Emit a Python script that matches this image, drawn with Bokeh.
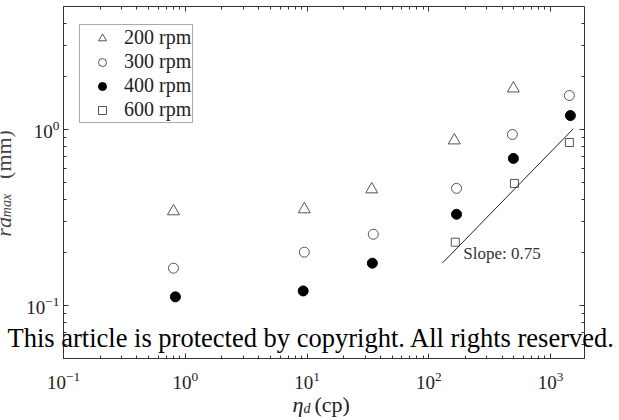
import math
from bokeh.plotting import figure
from bokeh.models import (LogAxis, LogScale, FixedTicker, LogTickFormatter, Label,
                          Legend, LegendItem, CustomJSTickFormatter)
from bokeh.embed import file_html
from bokeh.resources import INLINE

# ---- data ----
series_names = ["200 rpm", "300 rpm", "400 rpm", "600 rpm"]
x200 = [0.80, 9.5, 34.0, 162, 495]
y200 = [0.343, 0.352, 0.457, 0.867, 1.71]
x300 = [0.80, 9.5, 35.0, 169, 486, 1427]
y300 = [0.163, 0.201, 0.254, 0.463, 0.937, 1.56]
x400 = [0.83, 9.3, 34.4, 169, 495, 1455]
y400 = [0.112, 0.121, 0.174, 0.330, 0.685, 1.20]
x600 = [165, 505, 1427]
y600 = [0.229, 0.494, 0.844]
slope_x = [129, 1538]
slope_y = [0.174, 1.01]
slope_text = "Slope: 0.75"
x_major = [0.1, 1, 10, 100, 1000]
x_minor = [m * d for d in (0.1, 1, 10, 100) for m in range(2, 10)]
y_major = [0.1, 1]
y_minor = [0.05, 0.06, 0.07, 0.08, 0.09, 0.2, 0.3, 0.4, 0.5, 0.6, 0.7, 0.8,
           0.9, 2, 3, 4, 5]
x_bounds = (0.1, 1900)
y_bounds = (0.05, 5)

W, H = 619, 420
FL, FR, FT, FB = 63, 584, 6, 358  # axes box edges in canvas pixels

# the plotting frame spans the whole canvas; the axes box sits inside it
lx0, lx1 = math.log10(x_bounds[0]), math.log10(x_bounds[1])
ly0, ly1 = math.log10(y_bounds[0]), math.log10(y_bounds[1])
kx = (lx1 - lx0) / (FR - FL)
ky = (ly1 - ly0) / (FB - FT)
x_range = (10 ** (lx0 - FL * kx), 10 ** (lx1 + (W - FR) * kx))
y_range = (10 ** (ly0 - (H - FB) * ky), 10 ** (ly1 + FT * ky))

p = figure(width=W, height=H, x_axis_type=None, y_axis_type=None,
           x_range=x_range, y_range=y_range, output_backend="svg",
           toolbar_location=None, min_border=0, min_border_left=0,
           min_border_right=0, min_border_top=0, min_border_bottom=0)
p.x_scale = LogScale()
p.y_scale = LogScale()
p.title.visible = False
p.background_fill_color = "white"
p.border_fill_color = "white"
p.outline_line_color = None
p.xgrid.visible = False
p.ygrid.visible = False

LINE = "#333333"


def make_axis(ticker, loc, bounds, labels):
    ax = LogAxis(ticker=ticker, fixed_location=loc, bounds=bounds,
                 major_tick_in=5, major_tick_out=0, minor_tick_in=3,
                 minor_tick_out=0, axis_line_color=LINE,
                 major_tick_line_color=LINE, minor_tick_line_color=LINE)
    if labels:
        ax.formatter = LogTickFormatter()
        ax.major_label_text_font = "Liberation Serif"
        ax.major_label_text_font_size = "19px"
        ax.major_label_text_color = "#222222"
    else:
        ax.formatter = CustomJSTickFormatter(code="return ''")
        ax.major_label_text_font_size = "1px"
        ax.major_label_standoff = 0
    return ax


xb = make_axis(FixedTicker(ticks=x_major, minor_ticks=x_minor), y_bounds[0], x_bounds, True)
xb.major_label_standoff = 13
p.add_layout(xb, "below")
yl = make_axis(FixedTicker(ticks=y_major, minor_ticks=y_minor), x_bounds[0], y_bounds, True)
yl.major_label_standoff = 4
p.add_layout(yl, "left")
p.add_layout(make_axis(FixedTicker(ticks=x_major, minor_ticks=x_minor), y_bounds[1], x_bounds, False), "above")
p.add_layout(make_axis(FixedTicker(ticks=y_major, minor_ticks=y_minor), x_bounds[1], y_bounds, False), "right")

OUT = "#555555"
r200 = p.scatter(x200, y200, marker="triangle", size=12, fill_color=None,
                 line_color=OUT, line_width=1)
r300 = p.scatter(x300, y300, marker="circle", size=10, fill_color=None,
                 line_color=OUT, line_width=1)
r400 = p.scatter(x400, y400, marker="circle", size=10, fill_color="black",
                 line_color="black", line_width=1)
r600 = p.scatter(x600, y600, marker="square", size=8, fill_color=None,
                 line_color=OUT, line_width=1)
p.line(slope_x, slope_y, line_color="#222222", line_width=1)

p.add_layout(Label(x=192, y=0.198, text=slope_text, text_baseline="middle",
                   text_align="left", text_font="Liberation Serif",
                   text_font_size="17px", text_color="#333333"))

legend = Legend(items=[LegendItem(label=n, renderers=[r]) for n, r in
                       zip(series_names, [r200, r300, r400, r600])],
                location=(79, H - 123), padding=1, spacing=1, label_height=20,
                glyph_height=20, glyph_width=42, label_standoff=1, margin=0,
                label_text_font="Liberation Serif", label_text_font_size="20px",
                label_text_color="#222222", border_line_color="#555555",
                border_line_width=1, background_fill_color="white",
                background_fill_alpha=1)
p.add_layout(legend)

DY = 8   # shift of Bokeh's alphabetic anchor observed for these fonts
DXR = 11  # same for the rotated label


def clabel(X, Y, text, **kw):
    p.add_layout(Label(x=X, y=H - Y, x_units="screen", y_units="screen",
                       text=text, **kw))


# x axis label: eta_d (cp)
clabel(292, 412 - DY, "\u03b7", text_font="Liberation Serif",
       text_font_style="italic", text_font_size="22px",
       text_color="#222222", text_baseline="alphabetic")
clabel(303, 416 - DY, "d", text_font="Liberation Serif",
       text_font_style="italic", text_font_size="14px",
       text_color="#222222", text_baseline="alphabetic")
clabel(314, 412 - DY, "(cp)", text_font="Liberation Serif",
       text_font_size="22px", text_color="#222222", text_baseline="alphabetic")

# y axis label: rd_max (mm), rotated
rot = dict(angle=math.pi / 2, text_align="center", text_baseline="alphabetic",
           text_font="Liberation Serif", text_color="#444444")
clabel(14 - DXR, 232, "r", text_font_style="italic", text_font_size="22px", **rot)
clabel(14 - DXR, 222, "d", text_font_style="italic", text_font_size="22px", **rot)
clabel(17 - DXR, 205, "max", text_font_style="italic", text_font_size="14px", **rot)
clabel(14 - DXR, 154, "(mm)", text_font_size="22px", **rot)

# watermark
clabel(7, 345 - DY, "This article is protected by copyright. All rights reserved.",
       text_font="Liberation Serif", text_font_size="26.5px",
       text_color="black", text_baseline="alphabetic", text_align="left")

open("out.html", "w").write(file_html(p, INLINE))
